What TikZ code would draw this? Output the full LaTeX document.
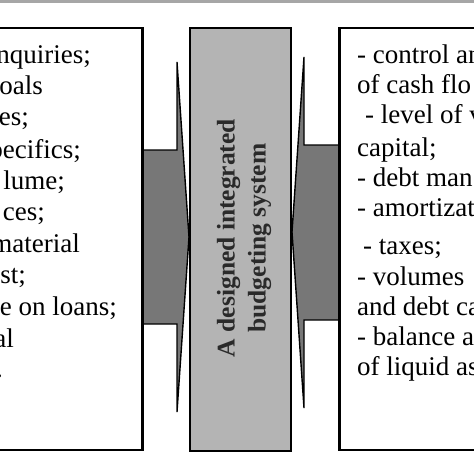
\documentclass[tikz,border=0pt]{standalone}
\usepackage{fontspec}
\setmainfont{Liberation Serif}
\definecolor{topgray}{HTML}{A6A6A6}
\definecolor{midgray}{HTML}{B4B4B4}
\definecolor{arrgray}{HTML}{777777}
\definecolor{ctextcol}{HTML}{2A2A2A}
\begin{document}
\begin{tikzpicture}[x=1pt,y=-1pt,
  box/.style={draw=black, line width=2pt, fill=white, inner sep=0pt},
  arrowsty/.style={draw=black, line width=1.4pt, fill=arrgray, line join=miter},
  lt/.style={inner sep=0pt, font=\fontsize{27}{31}\selectfont},
  ctext/.style={inner sep=0pt, align=center, rotate=90, text=ctextcol, font=\fontsize{25.5}{31}\selectfont\bfseries}]
\useasboundingbox (0,0) rectangle (474,474);
\clip (0,0) rectangle (474,474);
\fill[topgray] (0,0) rectangle (474,2.5);
% boxes
\node[box, minimum width=160pt, minimum height=422pt, anchor=north east] (lb) at (143,27) {};
\node[box, fill=midgray, minimum width=101pt, minimum height=423pt, anchor=north west] (cb) at (189,27) {};
\node[box, minimum width=160pt, minimum height=422pt, anchor=north west] (rb) at (339,27) {};
% arrows
\draw[arrowsty] (lb.east |- 0,150) -- (177,150) -- (177,62) -- (cb.west |- 0,237) -- (177,412) -- (177,324) -- (lb.east |- 0,324);
\draw[arrowsty] (rb.west |- 0,145) -- (304,145) -- (304,57) -- (cb.east |- 0,232) -- (304,408) -- (304,320) -- (rb.west |- 0,320);
\draw[line width=2pt] (lb.north east) -- (lb.south east);
\draw[line width=2pt] (rb.north west) -- (rb.south west);
% centre text
\node[ctext] (ct) at (244,238) {A designed integrated\\budgeting system};
% left text
\node[lt, anchor=base east] (l1) at (91,63) {nquiries;};
\node[lt, anchor=base east] (l2) at (43,94) {oals};
\node[lt, anchor=base east] (l3) at (29,125) {es;};
\node[lt, anchor=base east] (l4) at (81,158) {pecifics;};
\node[lt, anchor=base east] (l5) at (65,189) {lume;};
\node[lt, anchor=base east] (l6) at (45,220) {ces;};
\node[lt, anchor=base east] (l7) at (80,252) {material};
\node[lt, anchor=base east] (l8) at (26,283) {st;};
\node[lt, anchor=base east] (l9) at (117,315) {e on loans;};
\node[lt, anchor=base east] (l10) at (14,347) {al};
\node[lt, anchor=base east] (l11) at (3,377) {.};
% right text
\node[lt, anchor=base west] (r1) at (357,63) {- control an};
\node[lt, anchor=base west] (r2) at (357,93) {of cash flo};
\node[lt, anchor=base west] (r3) at (365,123) {- level of v};
\node[lt, anchor=base west] (r4) at (357,156) {capital;};
\node[lt, anchor=base west] (r5) at (357,186) {- debt man};
\node[lt, anchor=base west] (r6) at (357,216) {- amortizat};
\node[lt, anchor=base west] (r7) at (363,254) {- taxes;};
\node[lt, anchor=base west] (r8) at (357,285) {- volumes};
\node[lt, anchor=base west] (r9) at (357,315) {and debt ca};
\node[lt, anchor=base west] (r10) at (357,345) {- balance a};
\node[lt, anchor=base west] (r11) at (357,375) {of liquid as};
\end{tikzpicture}
\end{document}
